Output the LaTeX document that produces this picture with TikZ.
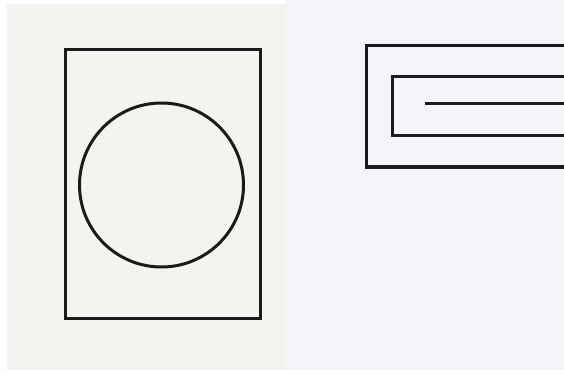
\documentclass[tikz,border=0pt]{standalone}
\definecolor{leftbg}{HTML}{F3F3F0}
\definecolor{rightbg}{HTML}{F4F5F9}
\definecolor{ink}{HTML}{1A1A1A}
\tikzset{shape line/.style={draw=ink, line width=3pt}}
\begin{document}
\begin{tikzpicture}[x=1pt,y=-1pt]
\useasboundingbox (0,0) rectangle (564,374);
\fill[white] (0,0) rectangle (564,374);
\fill[leftbg] (7,4) rectangle (286,370);
\fill[rightbg] (286,0) rectangle (564,370);
% left figure
\draw[shape line] (65,50) rectangle (260,318);
\draw[shape line] (161.5,185) circle (82);
% right figure
\coordinate (oR) at (564,46);
\coordinate (oRb) at (564,167);
\draw[shape line] (oR) -- (366,46) -- (366,167) -- (oRb);
\coordinate (iR) at (564,77);
\coordinate (iRb) at (564,136);
\draw[shape line] (iR) -- (392,77) -- (392,136) -- (iRb);
\coordinate (ls) at (425,104);
\coordinate (le) at (564,104);
\draw[shape line] (ls) -- (le);
\end{tikzpicture}
\end{document}
